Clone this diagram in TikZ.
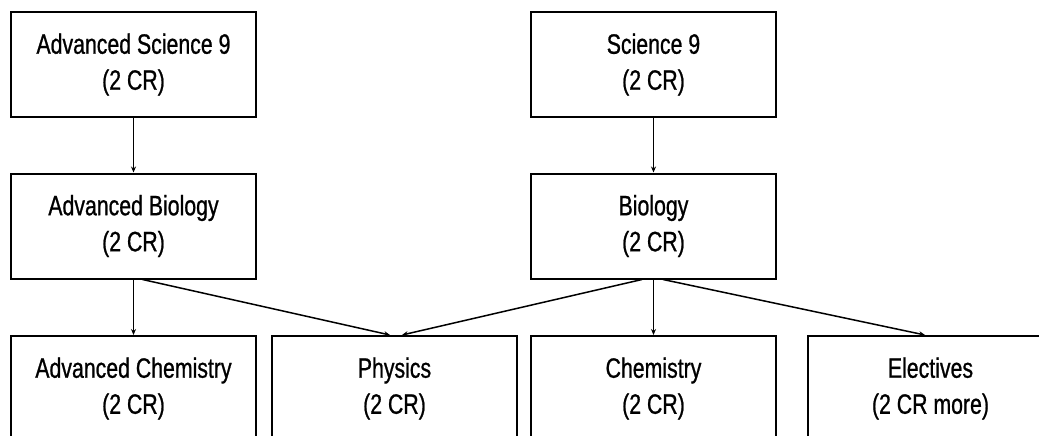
\documentclass[tikz,border=0pt]{standalone}
\usepackage{fontspec}
\setmainfont{Liberation Sans}[FakeStretch=0.76,FakeBold=0.8]
\usetikzlibrary{arrows.meta}
\begin{document}
\begin{tikzpicture}[x=1pt,y=-1pt,
  course/.style={draw=black, line width=2pt, minimum width=245pt, minimum height=105pt,
    inner sep=0pt, align=center, font=\fontsize{28}{36}\selectfont},
  link/.style={draw=black, line width=1.5pt, -{Stealth[length=6pt,width=5pt]}}]
\useasboundingbox (0,0) rectangle (1039,436);
\clip (0,0) rectangle (1039,436);
\node[course] (as9) at (133.5,64.5) {Advanced Science 9\\(2 CR)};
\node[course] (s9)  at (653.5,64.5) {Science 9\\(2 CR)};
\node[course] (ab)  at (133.5,226) {Advanced Biology\\(2 CR)};
\node[course] (bio) at (653.5,226) {Biology\\(2 CR)};
\node[course] (ac)  at (133.5,388.5) {Advanced Chemistry\\(2 CR)};
\node[course] (ph)  at (394.5,388.5) {Physics\\(2 CR)};
\node[course] (ch)  at (653.5,388.5) {Chemistry\\(2 CR)};
\node[course] (el)  at (930.5,388.5) {Electives\\(2 CR more)};
\coordinate (abd) at ([xshift=9pt]ab.south);
\coordinate (biol) at ([xshift=-11.5pt]bio.south);
\coordinate (bior) at ([xshift=9.5pt]bio.south);
\coordinate (pha) at ([xshift=-4.5pt]ph.north);
\coordinate (phb) at ([xshift=7.5pt]ph.north);
\coordinate (ela) at ([xshift=-5.5pt]el.north);
\draw[link] (as9.south) -- (ab.north);
\draw[link] (s9.south) -- (bio.north);
\draw[link] (ab.south) -- (ac.north);
\draw[link] (abd) -- (pha);
\draw[link] (biol) -- (phb);
\draw[link] (bio.south) -- (ch.north);
\draw[link] (bior) -- (ela);
\end{tikzpicture}
\end{document}
